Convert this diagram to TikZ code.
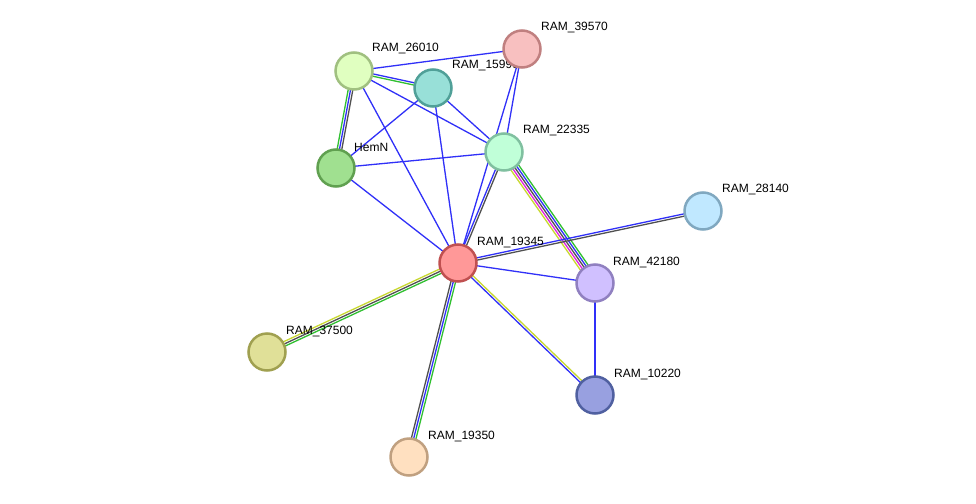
\documentclass[tikz,border=0pt]{standalone}
\usepackage{fontspec}
\setmainfont{Liberation Sans}
\usetikzlibrary{calc}
\definecolor{eblue}{HTML}{3030F8}
\definecolor{egreen}{HTML}{30C030}
\definecolor{egray}{HTML}{505050}
\definecolor{emag}{HTML}{E020E0}
\definecolor{eyellow}{HTML}{C8D830}
\pgfdeclarelayer{bg}
\pgfdeclarelayer{lab}
\pgfsetlayers{bg,lab,main}
\newcommand\multiedge[4]{%
  \foreach \clr [count=\i] in {#4} {%
    \pgfmathsetmacro\off{(\i-(#3+1)/2)*2.3}%
    \draw[edge,\clr] ($(#1.center)!\off pt!90:(#2.center)$) -- ($(#2.center)!\off pt!-90:(#1.center)$);
  }%
}
\begin{document}
\begin{tikzpicture}[x=1pt,y=-1pt,
  prot/.style={circle, minimum size=37pt, line width=2.5pt, inner sep=0pt},
  lbl/.style={anchor=west, inner sep=0pt, font=\fontsize{12}{14}\selectfont, text=black},
  edge/.style={line width=1.3pt}]
\useasboundingbox (0,0) rectangle (976,503);
% nodes
\node[prot, fill={rgb,255:red,224;green,255;blue,192}, draw={rgb,255:red,160;green,192;blue,128}] (n26010) at (354,71) {};
\node[prot, fill={rgb,255:red,152;green,224;blue,216}, draw={rgb,255:red,80;green,160;blue,152}] (n15990) at (433,88) {};
\node[prot, fill={rgb,255:red,248;green,192;blue,192}, draw={rgb,255:red,192;green,128;blue,128}] (n39570) at (522,49) {};
\node[prot, fill={rgb,255:red,192;green,255;blue,216}, draw={rgb,255:red,128;green,192;blue,160}] (n22335) at (504,152) {};
\node[prot, fill={rgb,255:red,160;green,224;blue,144}, draw={rgb,255:red,96;green,160;blue,80}] (nHemN) at (336,168) {};
\node[prot, fill={rgb,255:red,192;green,232;blue,255}, draw={rgb,255:red,128;green,168;blue,192}] (n28140) at (703,211) {};
\node[prot, fill={rgb,255:red,255;green,152;blue,152}, draw={rgb,255:red,192;green,80;blue,80}] (n19345) at (458,263) {};
\node[prot, fill={rgb,255:red,208;green,192;blue,255}, draw={rgb,255:red,144;green,128;blue,192}] (n42180) at (595,283) {};
\node[prot, fill={rgb,255:red,224;green,224;blue,152}, draw={rgb,255:red,160;green,160;blue,80}] (n37500) at (267,352) {};
\node[prot, fill={rgb,255:red,152;green,160;blue,224}, draw={rgb,255:red,80;green,96;blue,160}] (n10220) at (595,395) {};
\node[prot, fill={rgb,255:red,255;green,224;blue,192}, draw={rgb,255:red,192;green,160;blue,128}] (n19350) at (409,457) {};
% labels
\begin{pgfonlayer}{lab}
\node[lbl] (l26010) at ($(n26010.center)+(18,-22)$) {RAM\_26010};
\node[lbl] (l15990) at ($(n15990.center)+(19,-22)$) {RAM\_15990};
\node[lbl] (l39570) at ($(n39570.center)+(19,-21)$) {RAM\_39570};
\node[lbl] (l22335) at ($(n22335.center)+(19,-21)$) {RAM\_22335};
\node[lbl] (lHemN) at ($(nHemN.center)+(18,-21)$) {HemN};
\node[lbl] (l28140) at ($(n28140.center)+(19,-21)$) {RAM\_28140};
\node[lbl] (l19345) at ($(n19345.center)+(19,-21)$) {RAM\_19345};
\node[lbl] (l42180) at ($(n42180.center)+(18,-21)$) {RAM\_42180};
\node[lbl] (l37500) at ($(n37500.center)+(19,-21)$) {RAM\_37500};
\node[lbl] (l10220) at ($(n10220.center)+(19,-21)$) {RAM\_10220};
\node[lbl] (l19350) at ($(n19350.center)+(19,-21)$) {RAM\_19350};
\end{pgfonlayer}
% edges
\begin{pgfonlayer}{bg}
\fill[white] (0,0) rectangle (976,503);
\multiedge{n26010}{n39570}{1}{eblue}
\multiedge{n26010}{n15990}{2}{egreen,eblue}
\multiedge{n26010}{n22335}{1}{eblue}
\multiedge{n26010}{nHemN}{3}{egreen,eblue,egray}
\multiedge{n26010}{n19345}{1}{eblue}
\multiedge{n15990}{nHemN}{1}{eblue}
\multiedge{n15990}{n22335}{1}{eblue}
\multiedge{n15990}{n19345}{1}{eblue}
\multiedge{n39570}{n22335}{1}{eblue}
\multiedge{n39570}{n19345}{1}{eblue}
\multiedge{nHemN}{n22335}{1}{eblue}
\multiedge{nHemN}{n19345}{1}{eblue}
\multiedge{n22335}{n19345}{2}{eblue,egray}
\multiedge{n22335}{n42180}{5}{eyellow,emag,egray,eblue,egreen}
\multiedge{n19345}{n28140}{2}{egray,eblue}
\multiedge{n19345}{n42180}{1}{eblue}
\multiedge{n19345}{n37500}{3}{eyellow,egray,egreen}
\multiedge{n19345}{n19350}{3}{egray,eblue,egreen}
\multiedge{n19345}{n10220}{2}{eblue,eyellow}
\multiedge{n42180}{n10220}{1}{eblue}
\end{pgfonlayer}
\end{tikzpicture}
\end{document}
